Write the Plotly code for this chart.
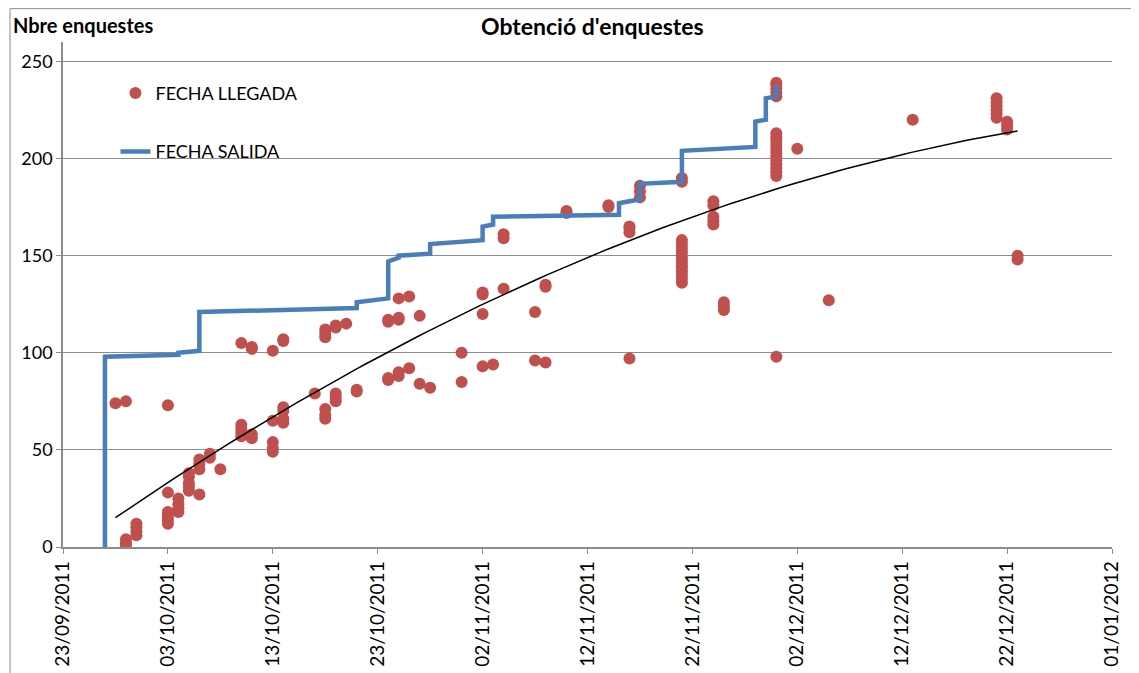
import plotly.graph_objects as go
import numpy as np
import pandas as pd

# FECHA LLEGADA: arrival date -> survey numbers received that day
llegada_fechas = [
    "2011-09-28", "2011-09-29", "2011-09-30", "2011-10-03", "2011-10-04",
    "2011-10-05", "2011-10-06", "2011-10-07", "2011-10-08", "2011-10-10",
    "2011-10-11", "2011-10-13", "2011-10-14", "2011-10-17", "2011-10-18",
    "2011-10-19", "2011-10-20", "2011-10-21", "2011-10-24", "2011-10-25",
    "2011-10-26", "2011-10-27", "2011-10-28", "2011-10-31", "2011-11-02",
    "2011-11-03", "2011-11-04", "2011-11-07", "2011-11-08", "2011-11-10",
    "2011-11-14", "2011-11-16", "2011-11-17", "2011-11-21", "2011-11-24",
    "2011-11-25", "2011-11-30", "2011-12-02", "2011-12-05", "2011-12-13",
    "2011-12-21", "2011-12-22", "2011-12-23",
]
llegada_valores = [
    [74], [75, 1, 2, 4], [6, 8, 10, 12], [73, 28, 12, 14, 16, 18], [18, 20, 22, 25],
    [29, 31, 33, 36, 38], [27, 40, 43, 45], [46, 48], [40], [57, 59, 61, 63, 105],
    [56, 58, 102, 103], [49, 51, 54, 65, 101], [64, 66, 70, 72, 106, 107], [79], [66, 68, 71, 108, 110, 112],
    [75, 77, 79, 113, 114], [115], [80, 81], [86, 87, 116, 117], [88, 90, 117, 118, 128],
    [92, 129], [84, 119], [82], [85, 100], [93, 120, 130, 131],
    [94], [133, 159, 161], [96, 121], [95, 134, 135], [172, 173],
    [175, 176], [97, 162, 164, 165], [180, 183, 186],
    [136, 138, 140, 142, 144, 146, 148, 150, 152, 154, 156, 158, 188, 190],
    [166, 168, 170, 176, 178],
    [122, 124, 126],
    [98, 191, 193, 195, 197, 199, 201, 203, 205, 207, 209, 211, 213, 232, 234, 236, 238, 239],
    [205], [127], [220],
    [221, 223, 225, 227, 229, 231], [215, 217, 219], [148, 150],
]

# FECHA SALIDA: cumulative count by departure date
salida_fechas = [
    "2011-09-27", "2011-09-27", "2011-10-04", "2011-10-04", "2011-10-06", "2011-10-06",
    "2011-10-21", "2011-10-21", "2011-10-24", "2011-10-24", "2011-10-25", "2011-10-25",
    "2011-10-28", "2011-10-28", "2011-11-02", "2011-11-02", "2011-11-03", "2011-11-03",
    "2011-11-15", "2011-11-15", "2011-11-17", "2011-11-17", "2011-11-21", "2011-11-21",
    "2011-11-28", "2011-11-28", "2011-11-29", "2011-11-29", "2011-11-30", "2011-11-30",
]
salida_total = [
    0, 98, 99, 100, 101, 121,
    123, 126, 128, 147, 149, 150,
    151, 156, 158, 165, 166, 170,
    171, 177, 179, 187, 188, 204,
    206, 219, 220, 231, 232, 238,
]

ll_x, ll_y = [], []
for f, vals in zip(llegada_fechas, llegada_valores):
    for v in vals:
        ll_x.append(f)
        ll_y.append(v)

# polynomial (order 2) trend line on arrivals
origen = pd.Timestamp("2011-09-23")
dias = np.array([(pd.Timestamp(f) - origen).days for f in ll_x], dtype=float)
coef = np.polyfit(dias, np.array(ll_y, dtype=float), 2)
d_fit = np.linspace(dias.min(), dias.max(), 120)
x_fit = [origen + pd.Timedelta(days=float(d)) for d in d_fit]
y_fit = np.polyval(coef, d_fit)

FONT = "Lato, 'Open Sans', sans-serif"
GRID = "#8c8c8c"

fig = go.Figure()
fig.add_trace(go.Scatter(
    x=ll_x, y=ll_y, mode="markers", name="FECHA LLEGADA",
    marker=dict(color="#C0504D", size=12), legendgroup="a",
))
fig.add_trace(go.Scatter(
    x=salida_fechas, y=salida_total, mode="lines", name="FECHA SALIDA",
    line=dict(color="#4A7EBB", width=4.5), legendgroup="b",
))
fig.add_trace(go.Scatter(
    x=x_fit, y=y_fit, mode="lines", showlegend=False,
    line=dict(color="black", width=1.5), hoverinfo="skip",
))

fig.update_layout(
    width=1131, height=665,
    margin=dict(l=55, r=27, t=34, b=126),
    paper_bgcolor="white", plot_bgcolor="white",
    font=dict(family=FONT, size=16, color="black"),
    showlegend=True,
    legend=dict(x=0.05, y=0.935, xanchor="left", yanchor="top",
                bgcolor="rgba(0,0,0,0)", font=dict(size=18),
                tracegroupgap=32, traceorder="grouped"),
    annotations=[
        dict(text="<b>Obtenció d'enquestes</b>", xref="paper", yref="paper",
             x=0.505, y=1.0, yanchor="bottom", showarrow=False,
             font=dict(size=23)),
        dict(text="<b>Nbre enquestes</b>", xref="paper", yref="paper",
             x=-0.05, y=1.005, xanchor="left", yanchor="bottom", showarrow=False,
             font=dict(size=20)),
    ],
    shapes=[dict(type="rect", xref="paper", yref="paper",
                 x0=-0.0505, x1=1.0235, y0=-0.26, y1=1.066,
                 line=dict(color="#8c8c8c", width=1), layer="below")],
)
fig.update_xaxes(
    type="date", range=["2011-09-23", "2012-01-01"], automargin=False,
    tick0="2011-09-23", dtick=10 * 86400000, tickformat="%d/%m/%Y",
    tickangle=-90, showgrid=False, showline=True, linecolor=GRID, linewidth=1.5,
    ticks="outside", ticklen=5, tickcolor=GRID, zeroline=False,
    tickfont=dict(size=19),
)
fig.update_yaxes(
    range=[0, 260], tickvals=[0, 50, 100, 150, 200, 250], automargin=False,
    showgrid=True, gridcolor=GRID, gridwidth=1.2, showline=True,
    linecolor=GRID, linewidth=1.5, ticks="outside", ticklen=5, tickcolor=GRID,
    zeroline=False, tickfont=dict(size=18),
)

fig.write_html("out.html")
